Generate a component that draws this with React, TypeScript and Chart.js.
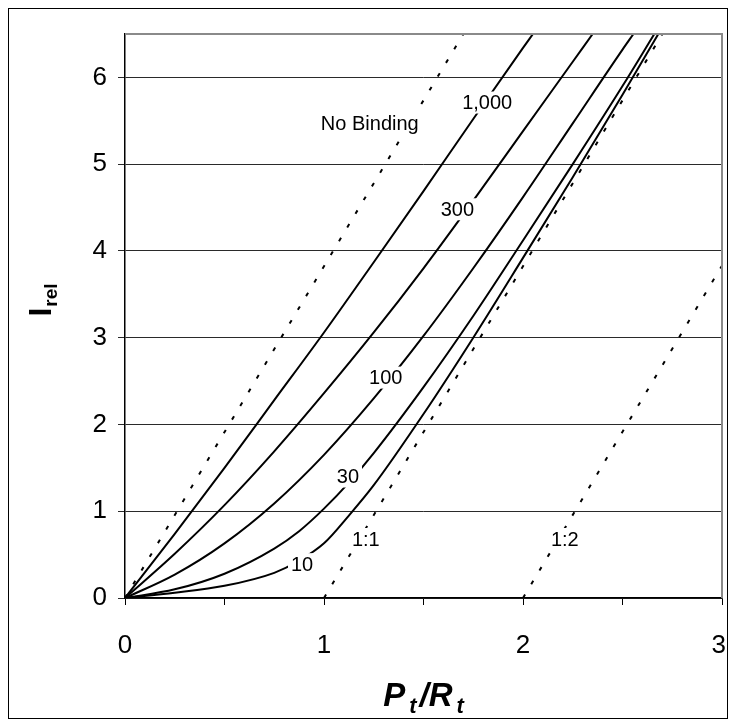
import React, { useEffect, useRef } from 'react';
import { Chart, registerables } from 'chart.js';

Chart.register(...registerables);

// ---- axis ticks ----
const xTicks = [0, 0.5, 1, 1.5, 2, 2.5, 3];
const xTickLabels = ['0', '', '1', '', '2', '', '3'];
const yTicks = [0, 1, 2, 3, 4, 5, 6];

// ---- reference (dashed) lines ----
const noBindingX = [0, 1.7];
const noBindingY = [0, 6.5];
const ratio11X = [0, 1, 2.7];
const ratio11Y = [0, 0, 6.5];
const ratio12X = [0, 2, 3];
const ratio12Y = [0, 0, 3.83];

// ---- binding curves (solid) ----
const k1000X = [0, 0.25, 0.5, 0.75, 1, 1.25, 1.5, 1.75, 2, 2.05];
const k1000Y = [0, 0.74, 1.5, 2.28, 3.06, 3.87, 4.69, 5.52, 6.34, 6.5];

const k300X = [0, 0.25, 0.5, 0.75, 1, 1.25, 1.5, 1.75, 2, 2.25, 2.35];
const k300Y = [0, 0.51, 1.07, 1.69, 2.36, 3.06, 3.8, 4.58, 5.38, 6.18, 6.5];

const k100X = [0, 0.25, 0.5, 0.75, 1, 1.25, 1.5, 1.75, 2, 2.25, 2.5, 2.555];
const k100Y = [0, 0.27, 0.63, 1.09, 1.65, 2.3, 3.02, 3.8, 4.62, 5.47, 6.32, 6.5];

const k30X = [0, 0.25, 0.5, 0.75, 0.875, 1, 1.125, 1.25, 1.5, 1.75, 2, 2.25, 2.5, 2.66];
const k30Y = [0, 0.1, 0.28, 0.57, 0.77, 1.03, 1.33, 1.67, 2.43, 3.25, 4.12, 5.0, 5.9, 6.5];

const k10X = [0, 0.25, 0.5, 0.75, 0.875, 1, 1.125, 1.25, 1.5, 1.75, 2, 2.25, 2.5, 2.68];
const k10Y = [0, 0.06, 0.14, 0.29, 0.43, 0.63, 0.95, 1.3, 2.12, 3.0, 3.92, 4.85, 5.8, 6.5];

// ---- in-plot labels ----
const labelText = ['No Binding', '1,000', '300', '100', '30', '10', '1:1', '1:2'];
const labelX = [1.23, 1.82, 1.67, 1.31, 1.12, 0.89, 1.21, 2.21];
const labelY = [5.47, 5.71, 4.48, 2.54, 1.4, 0.39, 0.68, 0.68];

const FONT = '"Liberation Sans", Arial, Helvetica, sans-serif';
const DIAG_DASH = [4, 12];
const FLAT_DASH = [7, 3.5];

const toPoints = (xs: number[], ys: number[]) => xs.map((x, i) => ({ x, y: ys[i] }));

const decorPlugin = {
  id: 'decor',
  afterDatasetsDraw(chart: any) {
    const { ctx, scales } = chart;
    const x = scales.x;
    const y = scales.y;
    ctx.save();
    ctx.font = `20px ${FONT}`;
    ctx.textAlign = 'center';
    ctx.textBaseline = 'middle';
    labelText.forEach((t, i) => {
      const px = x.getPixelForValue(labelX[i]);
      const py = y.getPixelForValue(labelY[i]);
      const w = ctx.measureText(t).width;
      ctx.fillStyle = '#fff';
      ctx.fillRect(px - w / 2 - 3, py - 11, w + 6, 22);
      ctx.fillStyle = '#000';
      ctx.fillText(t, px, py + 1);
    });
    ctx.restore();
  },
  afterDraw(chart: any) {
    const { ctx, chartArea: a, scales, width } = chart;
    ctx.save();
    // gray frame on top and right
    ctx.strokeStyle = '#8a8a8a';
    ctx.lineWidth = 2;
    ctx.beginPath();
    ctx.moveTo(a.left, a.top);
    ctx.lineTo(a.right, a.top);
    ctx.lineTo(a.right, a.bottom);
    ctx.stroke();

    ctx.fillStyle = '#000';

    // x tick labels (kept inside the frame like the original)
    ctx.font = `26px ${FONT}`;
    ctx.textAlign = 'center';
    ctx.textBaseline = 'middle';
    xTicks.forEach((v, i) => {
      const t = xTickLabels[i];
      if (!t) return;
      const w = ctx.measureText(t).width;
      const px = Math.min(scales.x.getPixelForValue(v), width - 1 - w / 2);
      ctx.fillText(t, px, a.bottom + 48);
    });

    ctx.textBaseline = 'alphabetic';
    ctx.textAlign = 'left';

    // x title: P_t / R_t
    const big = `italic bold 33px ${FONT}`;
    const sub = `italic bold 22px ${FONT}`;
    const parts = [
      { t: 'P', f: big, dy: 0, gap: 4 },
      { t: 't', f: sub, dy: 7, gap: 3 },
      { t: '/R', f: big, dy: 0, gap: 4 },
      { t: 't', f: sub, dy: 7, gap: 0 },
    ];
    let total = 0;
    parts.forEach((p) => {
      ctx.font = p.f;
      total += ctx.measureText(p.t).width + p.gap;
    });
    let cx = (a.left + a.right) / 2 - total / 2;
    const base = 697;
    parts.forEach((p) => {
      ctx.font = p.f;
      ctx.fillText(p.t, cx, base + p.dy);
      cx += ctx.measureText(p.t).width + p.gap;
    });

    // y title: I_rel (rotated)
    ctx.translate(31, 291);
    ctx.rotate(-Math.PI / 2);
    const yb = `bold 32px ${FONT}`;
    const ys = `bold 19px ${FONT}`;
    ctx.font = yb;
    const wI = ctx.measureText('I').width;
    ctx.font = ys;
    const wr = ctx.measureText('rel').width;
    const start = -(wI + 1 + wr) / 2;
    ctx.font = yb;
    ctx.fillText('I', start, 11);
    ctx.font = ys;
    ctx.fillText('rel', start + wI + 1, 17);
    ctx.restore();
  },
};

export default function App() {
  const ref = useRef<HTMLCanvasElement>(null);

  useEffect(() => {
    const canvas = ref.current;
    if (!canvas) return;

    const solid = (xs: number[], ys: number[]) => ({
      data: toPoints(xs, ys),
      borderColor: '#000',
      borderWidth: 2,
      pointRadius: 0,
      cubicInterpolationMode: 'monotone' as const,
      fill: false,
    });
    const dashed = (xs: number[], ys: number[]) => ({
      data: toPoints(xs, ys),
      borderColor: '#000',
      borderWidth: 2,
      pointRadius: 0,
      tension: 0,
      fill: false,
      segment: {
        borderDash: (c: any) => (c.p0.parsed.y === c.p1.parsed.y ? FLAT_DASH : DIAG_DASH),
      },
    });

    const chart = new Chart(canvas, {
      type: 'line',
      data: {
        datasets: [
          dashed(noBindingX, noBindingY),
          dashed(ratio11X, ratio11Y),
          dashed(ratio12X, ratio12Y),
          solid(k1000X, k1000Y),
          solid(k300X, k300Y),
          solid(k100X, k100Y),
          solid(k30X, k30Y),
          solid(k10X, k10Y),
        ] as any,
      },
      options: {
        responsive: false,
        animation: false,
        events: [],
        layout: { padding: { top: 25, right: 5, left: 0, bottom: 0 } },
        plugins: {
          legend: { display: false },
          tooltip: { enabled: false },
          title: { display: false },
        },
        scales: {
          x: {
            type: 'linear',
            min: 0,
            max: 3,
            afterBuildTicks: (s: any) => {
              s.ticks = xTicks.map((v) => ({ value: v }));
            },
            afterFit: (s: any) => {
              s.height = 120;
              s.paddingLeft = 0;
              s.paddingRight = 0;
            },
            ticks: {
              display: false,
              autoSkip: false,
            },
            grid: {
              drawOnChartArea: false,
              drawTicks: true,
              tickLength: 7,
              color: '#000',
              lineWidth: 1,
            },
            border: { color: '#000', width: 1.5 },
          },
          y: {
            type: 'linear',
            min: 0,
            max: 6.5,
            afterBuildTicks: (s: any) => {
              s.ticks = yTicks.map((v) => ({ value: v }));
            },
            afterFit: (s: any) => {
              s.width = 116;
              s.paddingTop = 0;
              s.paddingBottom = 0;
            },
            ticks: {
              color: '#000',
              font: { family: FONT, size: 26 },
              padding: 11,
              autoSkip: false,
              callback: (v: any) => String(v),
            },
            grid: {
              drawOnChartArea: true,
              drawTicks: true,
              tickLength: 7,
              color: '#2a2a2a',
              lineWidth: 1,
            },
            border: { color: '#000', width: 1.5 },
          },
        },
      },
      plugins: [decorPlugin],
    });

    return () => chart.destroy();
  }, []);

  return (
    <div
      style={{
        width: 720,
        height: 711,
        border: '1px solid #000',
        boxSizing: 'border-box',
        background: '#fff',
      }}
    >
      <canvas ref={ref} width={718} height={709} style={{ display: 'block', width: 718, height: 709 }} />
    </div>
  );
}
